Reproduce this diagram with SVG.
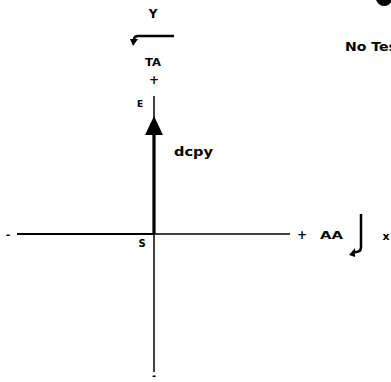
<svg xmlns="http://www.w3.org/2000/svg" width="391" height="382" viewBox="0 0 391 382">
<style>
text{font-family:"DejaVu Sans","Liberation Sans",sans-serif;font-weight:bold;fill:#000}
.ax{stroke:#000;fill:none}
</style>
<rect width="391" height="382" fill="#fff"/>
<g id="connectors">
<line class="ax" x1="17" y1="234" x2="154" y2="234" stroke-width="2"/>
<line class="ax" x1="154" y1="234" x2="290" y2="234" stroke-width="1.5"/>
<line class="ax" x1="154" y1="96" x2="154" y2="118" stroke-width="1.5"/>
<line class="ax" x1="154" y1="134" x2="154" y2="234" stroke-width="3.2"/>
<polygon points="154,116 145,135 163,135" fill="#000"/>
<line class="ax" x1="154" y1="234" x2="154" y2="372" stroke-width="1.5"/>
<path class="ax" d="M174,36 L138,36 Q134,36 134,40" stroke-width="2.5"/>
<polygon points="130,39 138,39 133,46" fill="#000"/>
<path class="ax" d="M361,214 L361,247 Q361,252 356,252 L354,252" stroke-width="2.5"/>
<polygon points="355,248 355,257 349,255" fill="#000"/>
</g>
<g id="axis-labels">
<text x="153" y="18" font-size="12" text-anchor="middle">Y</text>
<text x="153" y="66" font-size="10" text-anchor="middle" textLength="16" lengthAdjust="spacingAndGlyphs">TA</text>
<text x="154" y="84" font-size="12" text-anchor="middle">+</text>
<text x="140" y="107" font-size="9" text-anchor="middle">E</text>
<text x="174" y="156" font-size="12" textLength="39" lengthAdjust="spacingAndGlyphs">dcpy</text>
<text x="142" y="247" font-size="10" text-anchor="middle">S</text>
<text x="8" y="238" font-size="11" text-anchor="middle">-</text>
<text x="302" y="239" font-size="12" text-anchor="middle">+</text>
<text x="320" y="239" font-size="10" textLength="23" lengthAdjust="spacingAndGlyphs">AA</text>
<text x="386" y="240" font-size="11" text-anchor="middle">x</text>
<text x="154" y="379" font-size="10" text-anchor="middle">-</text>
</g>
<g id="note">
<text x="345" y="51" font-size="13" textLength="52" lengthAdjust="spacingAndGlyphs">No Tes</text>
<path d="M376,0 Q379,6 384,6 Q389,6 391,2 L391,0 Z" fill="#000"/>
</g>
</svg>
